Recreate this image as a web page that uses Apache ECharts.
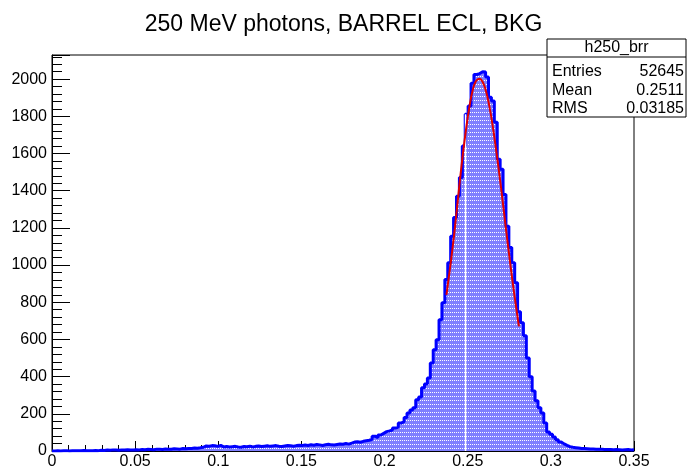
<!DOCTYPE html>
<html lang="en">
<head>
    <meta charset="UTF-8">
    <title>h250_brr</title>
    <script src="https://cdn.jsdelivr.net/npm/echarts@6.0.0/dist/echarts.min.js"></script>
    <style>
        body { margin: 0; background: #fff; }
        #main { width: 687px; height: 470px; }
    </style>
</head>
<body>
<div id="main"></div>
<script type="text/javascript">
    // histogram: 200 bins from 0 to 0.35
    var xMin = 0, xMax = 0.35, nBins = 200;
    var counts = [
        0,1,0,1,2,0,1,1,2,1,3,2,1,2,3,2,
        4,3,5,4,6,5,4,6,5,7,6,5,7,
        6,8,7,9,8,7,10,9,8,11,10,9,12,11,10,13,12,
        14,13,16,15,17,20,
        27,26,29,28,25,30,
        22,24,21,23,25,22,20,24,23,26,22,
        25,27,24,26,28,25,27,29,26,24,27,30,28,26,29,31,30,
        32,30,34,31,35,33,30,34,36,33,32,35,
        38,36,40,37,42,
        48,50,47,52,55,
        58,62,80,71,86,
        95,104,108,113,124,128,150,158,180,205,220,232,275,290,340,360,393,
        474,545,598,706,798,922,1013,1155,1256,1370,1471,1640,1811,1856,1978,
        2025,2030,2040,2038,2011,
        1903,1883,1768,1569,1515,1380,1209,1094,1013,905,749,690,620,500,400,323,
        270,232,205,150,102,90,75,60,48,38,30,23,20,18,16,
        14,13,12,11,11,10,9,9,8,8,8,7,8,7,6,7,8,6,7
    ];

    // red fit curve
    var fitX = [0.2372,0.2390,0.2410,0.2430,0.2450,0.2470,0.2490,0.2510,0.2530,0.2550,0.2570,
                0.2590,0.2610,0.2630,0.2650,0.2670,0.2690,0.2710,0.2730,0.2750,0.2770,0.2790,0.2808];
    var fitY = [840,960,1100,1260,1430,1590,1730,1850,1940,1990,2002,
                1985,1935,1855,1750,1625,1490,1345,1195,1050,910,780,670];

    var statsName = 'h250_brr';
    var statsKeys = ['Entries', 'Mean', 'RMS'];
    var statsVals = ['52645', '0.2511', '0.03185'];

    var yTop = 2130;
    var font = 'Liberation Sans, Arial, Helvetica, sans-serif';

    var binW = (xMax - xMin) / nBins;
    var histData = [];
    for (var i = 0; i < counts.length; i++) {
        histData.push([xMin + i * binW, counts[i]]);
    }
    histData.push([xMax, counts[counts.length - 1]]);

    var fitData = [];
    for (var j = 0; j < fitX.length; j++) fitData.push([fitX[j], fitY[j]]);

    // white gap in the fill, near 0.25
    var gapBin = 142;
    var gapX = xMin + gapBin * binW + 0.0002;
    var gapData = [[gapX, 0], [gapX, counts[gapBin]]];

    // ROOT-like hatch: blue with dotted white rows
    var pat = document.createElement('canvas');
    pat.width = 2; pat.height = 4;
    var pc = pat.getContext('2d');
    pc.fillStyle = '#7f7fff';
    pc.fillRect(0, 0, 2, 4);
    pc.fillStyle = '#ffffff';
    pc.fillRect(0, 0, 1, 1);

    var myChart = echarts.init(document.getElementById('main'));

    // stats box
    var g = [];
    var bx = 547, by = 39, bw = 139;
    var rowY = [72, 90.5, 109];
    g.push({ type: 'rect', shape: { x: bx, y: by, width: bw, height: 78 },
        style: { fill: '#fff', stroke: '#000', lineWidth: 1 }, z: 100 });
    g.push({ type: 'line', shape: { x1: bx, y1: by + 18, x2: bx + bw, y2: by + 18 },
        style: { stroke: '#000', lineWidth: 1 }, z: 101 });
    g.push({ type: 'text', x: bx + bw / 2, y: by + 8.5, z: 102,
        style: { text: statsName, font: '16px ' + font, fill: '#000', align: 'center', verticalAlign: 'middle' } });
    for (var k = 0; k < statsKeys.length; k++) {
        g.push({ type: 'text', x: bx + 5, y: rowY[k], z: 102,
            style: { text: statsKeys[k], font: '16px ' + font, fill: '#000', align: 'left', verticalAlign: 'middle' } });
        g.push({ type: 'text', x: bx + bw - 2, y: rowY[k], z: 102,
            style: { text: statsVals[k], font: '16px ' + font, fill: '#000', align: 'right', verticalAlign: 'middle' } });
    }

    option = {
        animation: false,
        title: {
            text: '250 MeV photons, BARREL ECL, BKG',
            left: 'center',
            top: 8,
            textStyle: { fontFamily: font, fontSize: 23, fontWeight: 'normal', color: '#000' }
        },
        grid: {
            left: 52, right: 53, top: 55, bottom: 19,
            show: true, borderColor: '#000', borderWidth: 1
        },
        xAxis: {
            type: 'value', min: xMin, max: xMax, interval: 0.05,
            axisLine: { lineStyle: { color: '#000', width: 1 } },
            axisTick: { inside: true, length: 10, lineStyle: { color: '#000' } },
            minorTick: { show: true, splitNumber: 5, length: 6, lineStyle: { color: '#000' } },
            splitLine: { show: false },
            axisLabel: { color: '#000', fontSize: 16, fontFamily: font, margin: 3,
                formatter: function (v) { return String(+v.toFixed(2)); } }
        },
        yAxis: {
            type: 'value', min: 0, max: yTop, interval: 200,
            axisLine: { show: true, lineStyle: { color: '#000', width: 1 } },
            axisTick: { inside: true, length: 18, lineStyle: { color: '#000' } },
            minorTick: { show: true, splitNumber: 5, length: 10, lineStyle: { color: '#000' } },
            splitLine: { show: false },
            axisLabel: { color: '#000', fontSize: 16, fontFamily: font, margin: 5, showMaxLabel: false,
                formatter: function (v) { return String(v); } }
        },
        series: [
            {
                type: 'line', step: 'end', data: histData, symbol: 'none',
                lineStyle: { color: '#0000ff', width: 3 },
                areaStyle: { color: { image: pat, repeat: 'repeat' }, opacity: 1 },
                z: 2
            },
            {
                type: 'line', data: gapData, symbol: 'none',
                lineStyle: { color: '#ffffff', width: 1.5 }, z: 3
            },
            {
                type: 'line', data: fitData, symbol: 'none', smooth: true,
                lineStyle: { color: '#e00000', width: 2 }, z: 4
            }
        ],
        graphic: g
    };

    myChart.setOption(option);
</script>
</body>
</html>
